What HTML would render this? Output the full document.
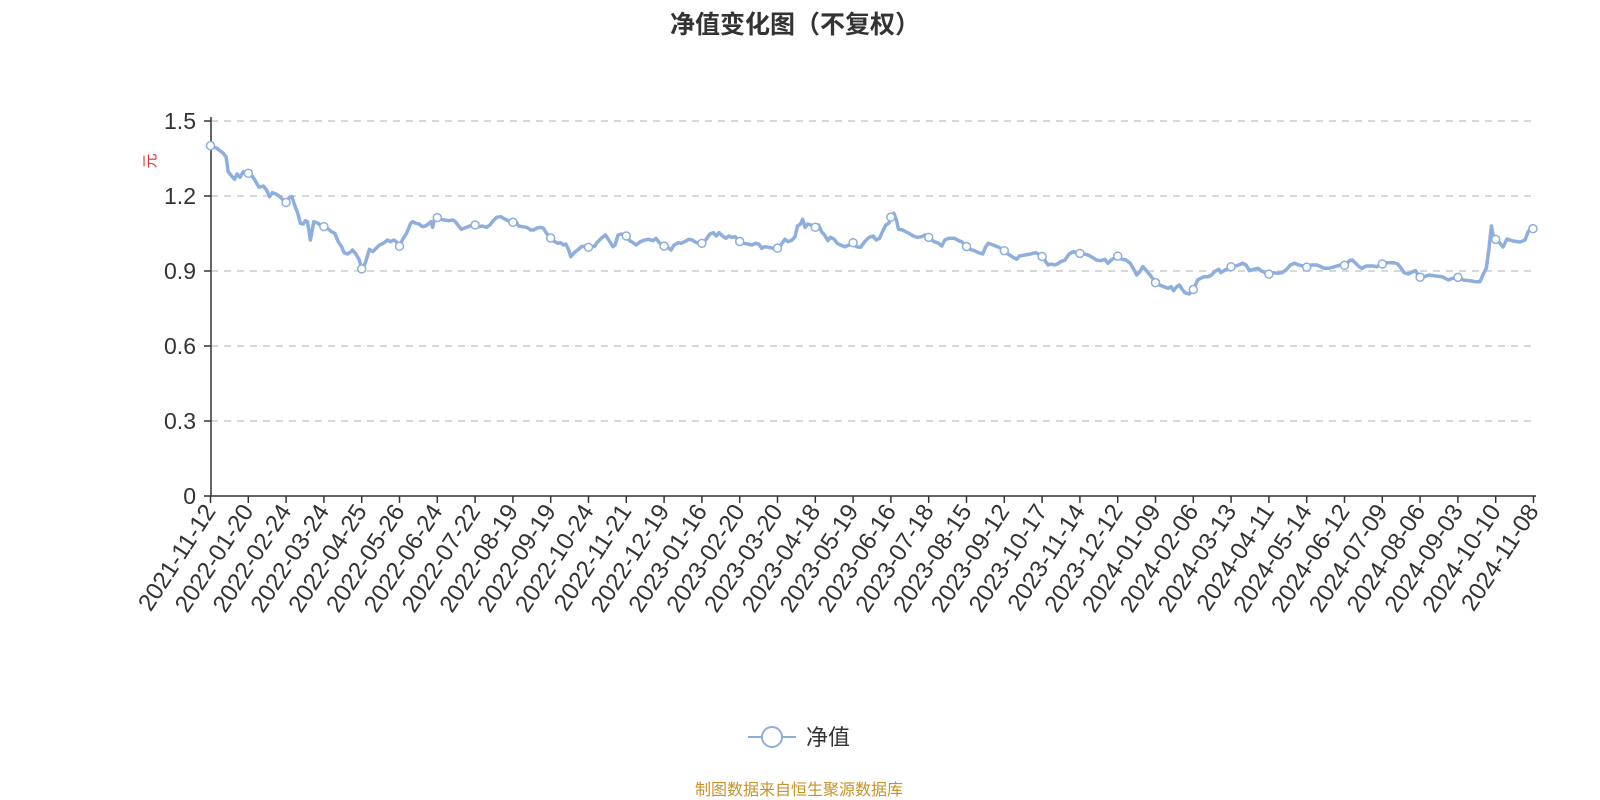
<!DOCTYPE html>
<html><head><meta charset="utf-8"><style>
html,body{margin:0;padding:0;background:#fff;width:1600px;height:800px;overflow:hidden}
svg text{font-family:"Liberation Sans","Noto Sans CJK SC",sans-serif}
</style></head><body>
<svg id="s" width="1600" height="800" xmlns="http://www.w3.org/2000/svg">
<text x="795" y="33" text-anchor="middle" font-size="25" font-weight="bold" fill="#333">净值变化图（不复权）</text>
<text transform="translate(155,161) rotate(-90)" text-anchor="middle" font-size="15" fill="#e03030">元</text>
<g id="grid"></g>
<g id="xl"></g>
<path id="ln" fill="none" stroke="#8eaedd" stroke-width="3.5" stroke-linejoin="round"/>
<g id="mk"></g>
<line x1="748" y1="737" x2="796" y2="737" stroke="#8eaedd" stroke-width="2"/>
<circle cx="772" cy="737" r="10" fill="#fff" stroke="#8eaedd" stroke-width="2"/>
<text x="806" y="745" font-size="22" fill="#333">净值</text>
<text x="799" y="795" text-anchor="middle" font-size="16" fill="#c8922a">制图数据来自恒生聚源数据库</text>
</svg>
<script>
var NS="http://www.w3.org/2000/svg";
function el(t,a,p,txt){var e=document.createElementNS(NS,t);for(var k in a)e.setAttribute(k,a[k]);if(txt!==undefined)e.textContent=txt;document.getElementById(p).appendChild(e);return e;}
var Y0=496,Y15=121;function yv(v){return Y0-(Y0-Y15)*v/1.5;}
var labs=["0","0.3","0.6","0.9","1.2","1.5"];
for(var i=0;i<6;i++){var y=yv(i*0.3);
 if(i>0)el("line",{x1:211,x2:1535,y1:y,y2:y,stroke:"#ccc","stroke-width":1.5,"stroke-dasharray":"7,6"},"grid");
 el("line",{x1:204,x2:211,y1:y,y2:y,stroke:"#333","stroke-width":1.5},"grid");
 el("text",{x:196,y:y+8,"text-anchor":"end","font-size":23,fill:"#333"},"grid",labs[i]);}
el("line",{x1:211,x2:211,y1:Y15-4,y2:Y0,stroke:"#333","stroke-width":1.5},"grid");
el("line",{x1:211,x2:1536,y1:Y0,y2:Y0,stroke:"#333","stroke-width":1.5},"grid");
var dates=["2021-11-12","2022-01-20","2022-02-24","2022-03-24","2022-04-25","2022-05-26","2022-06-24","2022-07-22","2022-08-19","2022-09-19","2022-10-24","2022-11-21","2022-12-19","2023-01-16","2023-02-20","2023-03-20","2023-04-18","2023-05-19","2023-06-16","2023-07-18","2023-08-15","2023-09-12","2023-10-17","2023-11-14","2023-12-12","2024-01-09","2024-02-06","2024-03-13","2024-04-11","2024-05-14","2024-06-12","2024-07-09","2024-08-06","2024-09-03","2024-10-10","2024-11-08"];
var tx=[];for(var i=0;i<36;i++){var x=210.5+i*37.8;tx.push(x);
 el("line",{x1:x,x2:x,y1:Y0,y2:Y0+7,stroke:"#333","stroke-width":1.5},"xl");
 el("text",{transform:"translate("+(x+6)+","+(Y0+15)+") rotate(-57)","text-anchor":"end","font-size":24,fill:"#333"},"xl",dates[i]);}
var z1=[25,137,40,145,55,160,62,170,67,215,75,228,82,238,88,222,95,232,103,215,115,220,122,225,130,240,140,262,150,258,158,270,165,290,172,278,180,282,190,290,197,300,205,308,212,292,218,290,226,320,232,340,238,370,245,372,250,362,255,365,262,420,270,365,280,370,288,378,295,380,302,385,312,395,320,400,328,425,336,440,342,458,350,462,358,455,362,450,370,462,378,480,384,508,392,490,402,448,410,455,418,445,426,435,435,430,445,420,452,425,460,420,466,425,474,440,480,420,490,400,500,370,505,365,512,370,520,372,528,380,535,378,542,372,548,365,552,382,556,360,562,352,570,358,580,360,590,362,600,360,606,365,612,375,620,388,630,383,640,378,653,375,662,380,670,378,680,382,688,375,696,362,704,352,714,350,720,355,728,360,736,365,743,367,750,365,756,378,765,380,775,382,785,390,792,390,800,384,808,382,815,385,820,395,827,408,833,415,842,425,850,430,856,428,862,435,868,432,875,450,880,470,888,458,896,450,905,440,915,438,922,442,930,440,937,438,942,428,952,415,962,405,970,420,980,440,985,435,992,405,1000,402,1012,408,1020,422,1028,428,1035,435,1045,425,1055,420,1065,418,1075,422,1082,415,1090,428,1100,438,1108,440,1118,450,1125,435,1135,428,1142,430,1150,425,1160,418,1168,420,1178,428,1191,430,1200,420,1210,402,1218,398,1225,408,1232,398,1240,408,1248,415,1255,408,1262,412,1270,410,1281,425,1290,430,1300,432,1310,435,1318,430,1326,432,1333,445,1340,440,1350,442,1360,445,1370,445,1378,435,1388,418,1396,425,1405,420,1412,410,1418,378,1425,372,1430,358,1436,382,1442,372,1450,375,1460,382,1468,375,1475,395,1482,405,1490,422,1496,412,1505,418,1512,430,1520,435,1530,440,1540,435,1550,428];
var z2=[15,440,25,442,35,425,45,412,55,408,62,420,70,415,78,392,85,375,92,370,98,348,104,340,110,360,115,388,125,390,132,395,140,400,150,408,160,412,170,410,178,405,185,410,192,418,200,425,210,430,218,438,225,420,235,415,248,415,258,422,265,425,275,438,285,448,295,452,305,458,315,462,322,440,328,430,340,435,350,440,358,445,366,452,375,462,385,470,395,478,402,468,415,465,428,462,440,458,447,462,455,468,462,480,470,495,478,492,485,495,492,492,500,485,510,480,520,462,530,455,545,460,555,462,565,465,575,472,585,480,595,482,605,478,612,490,620,480,635,468,645,478,655,480,665,490,672,505,680,525,688,515,695,500,702,510,710,522,718,535,725,548,735,555,745,560,755,565,762,560,768,572,775,560,782,555,788,568,795,578,805,582,815,568,825,540,832,535,840,530,850,530,858,525,865,515,875,508,880,518,890,510,905,500,915,498,922,495,932,490,940,495,948,512,958,508,968,505,975,512,985,518,995,523,1005,518,1015,520,1025,518,1035,510,1045,495,1055,490,1065,495,1075,498,1083,502,1095,495,1108,495,1118,500,1125,505,1135,505,1145,502,1155,498,1165,495,1175,496,1185,482,1192,480,1200,490,1208,500,1215,505,1225,498,1240,498,1250,500,1263,492,1275,488,1290,488,1300,492,1308,505,1315,518,1325,522,1335,515,1342,512,1353,532,1362,530,1375,525,1390,528,1405,530,1420,540,1430,535,1443,532,1455,540,1470,542,1485,545,1495,545,1502,525,1510,505,1516,450,1522,378,1528,418,1535,418];
var pts=[];
for(var i=0;i<z1.length;i+=2)pts.push([200+z1[i]*0.4214,100+z1[i+1]/3]);
for(var i=0;i<z2.length;i+=2)pts.push([850+z2[i]*0.4214,100+z2[i+1]/3]);
[[1503,247],[1507,239],[1513,241],[1520,242],[1525,240],[1528,232],[1531,228],[1534,229]].forEach(function(p){pts.push(p)});
var d="";pts.forEach(function(p,i){d+=(i?"L":"M")+p[0].toFixed(1)+" "+p[1].toFixed(1)});
document.getElementById("ln").setAttribute("d",d);
function yat(x){for(var i=1;i<pts.length;i++){if(pts[i][0]>=x){var a=pts[i-1],b=pts[i];var t=(x-a[0])/((b[0]-a[0])||1);return a[1]+t*(b[1]-a[1]);}}return pts[pts.length-1][1];}
tx.forEach(function(x,i){var xx=Math.min(x,1533);el("circle",{cx:xx,cy:yat(xx),r:4,fill:"#fff",stroke:"#8eaedd","stroke-width":1.5},"mk");});
</script>
</body></html>
